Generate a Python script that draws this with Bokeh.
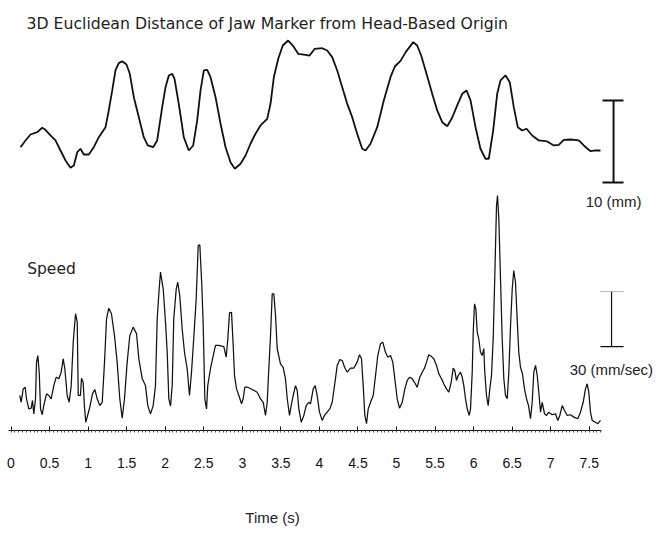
from bokeh.plotting import figure
from bokeh.layouts import column
from bokeh.models import Range1d, LinearAxis, FixedTicker, Label
from bokeh.embed import file_html
from bokeh.resources import INLINE

# ---- data ----
# 3D distance of jaw marker (mm, relative)
dist_t = [0.123, 0.188, 0.253, 0.340, 0.405, 0.447, 0.512, 0.577, 0.642, 0.707, 0.772, 0.815, 0.859,
          0.901, 0.944, 1.009, 1.074, 1.139, 1.226, 1.268, 1.313, 1.355, 1.398, 1.442, 1.498, 1.541,
          1.593, 1.658, 1.722, 1.774, 1.844, 1.896, 1.961, 2.004, 2.047, 2.091, 2.121, 2.176, 2.241,
          2.306, 2.363, 2.415, 2.458, 2.501, 2.545, 2.588, 2.653, 2.718, 2.783, 2.847, 2.903, 2.977,
          3.042, 3.106, 3.171, 3.236, 3.323, 3.366, 3.409, 3.466, 3.525, 3.595, 3.655, 3.725, 3.820,
          3.872, 3.940, 4.036, 4.101, 4.166, 4.231, 4.296, 4.361, 4.425, 4.490, 4.555, 4.598, 4.663,
          4.750, 4.835, 4.922, 4.978, 5.052, 5.117, 5.217, 5.268, 5.320, 5.389, 5.463, 5.528, 5.593,
          5.658, 5.722, 5.787, 5.852, 5.908, 5.960, 6.025, 6.089, 6.154, 6.197, 6.254, 6.306, 6.349,
          6.414, 6.469, 6.521, 6.573, 6.630, 6.686, 6.760, 6.846, 6.955, 7.040, 7.105, 7.170, 7.257,
          7.364, 7.429, 7.516, 7.581, 7.646]
dist_mm = [2.84, 3.66, 4.39, 4.67, 5.21, 4.96, 4.27, 3.66, 2.44, 1.22, 0.33, 0.61, 2.23,
           2.65, 1.95, 1.95, 2.84, 4.06, 5.28, 7.32, 9.76, 12.20, 13.09, 13.33, 12.93, 11.79,
           8.94, 6.50, 4.06, 3.05, 2.84, 3.66, 7.72, 10.16, 11.59, 11.79, 11.18, 8.13, 4.06,
           2.44, 3.05, 6.10, 9.76, 12.20, 12.28, 11.38, 8.94, 5.70, 2.84, 1.01, 0.21, 0.82,
           1.83, 3.26, 4.48, 5.49, 6.30, 8.13, 11.38, 13.62, 15.24, 15.85, 15.24, 14.23, 14.11,
           14.02, 14.84, 14.91, 14.63, 13.82, 12.20, 10.16, 8.13, 6.50, 4.48, 2.65, 2.44, 3.26,
           5.28, 8.54, 11.38, 12.68, 13.37, 14.40, 15.65, 15.24, 14.02, 11.79, 9.35, 7.32, 5.89,
           5.40, 6.43, 7.93, 9.35, 9.76, 8.54, 5.28, 2.65, 1.43, 1.43, 4.88, 9.35, 10.98,
           11.59, 10.77, 7.72, 5.28, 4.88, 5.09, 4.27, 3.66, 3.54, 3.05, 3.13, 3.74, 3.78,
           3.66, 3.05, 2.35, 2.44, 2.44]

# speed (mm/sec)
speed_t = [0.114, 0.132, 0.158, 0.184, 0.201, 0.231, 0.262, 0.279, 0.296, 0.318, 0.331, 0.348, 0.366,
           0.383, 0.405, 0.425, 0.460, 0.490, 0.521, 0.555, 0.586, 0.620, 0.651, 0.677, 0.698, 0.729,
           0.755, 0.781, 0.807, 0.837, 0.859, 0.872, 0.901, 0.914, 0.936, 0.953, 0.970, 0.988, 1.022,
           1.057, 1.087, 1.118, 1.152, 1.183, 1.213, 1.239, 1.268, 1.303, 1.342, 1.377, 1.411, 1.442,
           1.472, 1.507, 1.541, 1.585, 1.628, 1.658, 1.702, 1.744, 1.774, 1.809, 1.844, 1.874, 1.896,
           1.922, 1.939, 1.974, 2.004, 2.026, 2.047, 2.069, 2.091, 2.111, 2.143, 2.163, 2.189, 2.220,
           2.250, 2.285, 2.315, 2.341, 2.371, 2.402, 2.428, 2.449, 2.475, 2.493, 2.514, 2.536, 2.552,
           2.587, 2.623, 2.652, 2.695, 2.760, 2.791, 2.812, 2.834, 2.860, 2.882, 2.899, 2.925, 2.955,
           2.990, 3.012, 3.032, 3.071, 3.128, 3.193, 3.236, 3.271, 3.301, 3.323, 3.344, 3.366, 3.388,
           3.409, 3.431, 3.453, 3.495, 3.530, 3.560, 3.583, 3.612, 3.634, 3.660, 3.690, 3.712, 3.733,
           3.764, 3.798, 3.829, 3.863, 3.885, 3.920, 3.945, 3.971, 4.001, 4.036, 4.066, 4.101, 4.135,
           4.166, 4.196, 4.231, 4.265, 4.296, 4.326, 4.361, 4.403, 4.446, 4.490, 4.520, 4.546, 4.568,
           4.589, 4.611, 4.633, 4.663, 4.698, 4.728, 4.757, 4.792, 4.822, 4.857, 4.887, 4.922, 4.952,
           4.978, 5.009, 5.039, 5.074, 5.108, 5.139, 5.172, 5.204, 5.233, 5.268, 5.302, 5.333, 5.363,
           5.389, 5.419, 5.450, 5.484, 5.519, 5.549, 5.584, 5.613, 5.648, 5.678, 5.709, 5.735, 5.756,
           5.778, 5.800, 5.830, 5.852, 5.873, 5.895, 5.917, 5.943, 5.960, 5.982, 5.995, 6.012, 6.029,
           6.047, 6.067, 6.089, 6.111, 6.132, 6.145, 6.167, 6.189, 6.210, 6.232, 6.254, 6.275, 6.297,
           6.310, 6.327, 6.349, 6.371, 6.392, 6.414, 6.436, 6.457, 6.479, 6.501, 6.521, 6.543, 6.565,
           6.586, 6.608, 6.634, 6.660, 6.686, 6.712, 6.738, 6.760, 6.781, 6.803, 6.825, 6.846, 6.868,
           6.890, 6.920, 6.946, 6.975, 7.019, 7.062, 7.092, 7.118, 7.149, 7.179, 7.214, 7.257, 7.300,
           7.351, 7.386, 7.421, 7.451, 7.473, 7.494, 7.516, 7.538, 7.581, 7.611, 7.646]
speed_mms = [19.1, 15.4, 22.7, 23.6, 17.3, 11.8, 12.2, 16.4, 9.1, 17.3, 37.3, 40.9, 31.8,
             11.8, 8.6, 13.6, 20.0, 19.1, 17.3, 24.5, 29.1, 28.2, 31.8, 39.1, 33.7, 19.1,
             15.4, 24.5, 48.2, 63.7, 59.1, 19.1, 19.1, 28.5, 26.3, 12.7, 4.5, 7.3, 12.7,
             20.0, 22.4, 17.3, 13.6, 15.4, 37.3, 60.9, 66.7, 63.7, 51.8, 37.3, 17.3, 6.7,
             17.3, 37.3, 51.8, 56.4, 52.8, 39.1, 28.2, 24.5, 13.6, 9.1, 13.6, 24.5, 60.9,
             77.3, 86.4, 77.3, 59.1, 42.7, 17.3, 13.3, 24.5, 60.9, 77.3, 80.9, 73.6, 55.5,
             42.7, 33.7, 19.1, 31.8, 50.9, 71.8, 100.9, 101.3, 79.1, 57.3, 17.3, 11.8, 24.5,
             33.7, 40.9, 46.4, 46.4, 45.8, 40.0, 50.0, 64.2, 64.5, 46.4, 30.0, 22.7, 19.1,
             14.6, 17.3, 23.6, 23.6, 22.4, 20.9, 17.3, 15.4, 8.2, 15.4, 33.7, 51.8, 74.6,
             74.6, 62.7, 44.6, 36.4, 34.5, 28.2, 17.3, 8.2, 13.6, 19.1, 24.5, 21.8, 11.8,
             4.5, 8.2, 13.6, 15.4, 14.6, 22.7, 24.5, 19.1, 10.0, 5.5, 8.2, 10.0, 11.8,
             15.4, 24.5, 35.5, 38.7, 38.2, 34.5, 31.8, 34.0, 34.0, 37.3, 41.3, 39.1, 24.5,
             8.2, 3.7, 11.8, 15.4, 19.1, 30.0, 40.9, 47.3, 48.2, 42.7, 40.0, 40.9, 37.3,
             28.2, 17.3, 12.2, 15.4, 22.7, 27.3, 29.1, 28.2, 26.3, 23.6, 29.1, 31.8, 34.0,
             37.3, 41.3, 40.5, 39.1, 35.5, 30.9, 28.2, 25.5, 22.7, 20.9, 26.3, 34.0, 32.7,
             27.3, 30.0, 31.8, 29.1, 24.5, 17.3, 11.8, 8.2, 11.8, 31.8, 53.6, 69.1, 66.4,
             53.6, 50.0, 42.7, 40.9, 44.6, 31.8, 19.1, 13.6, 22.7, 30.0, 50.0, 84.6, 122.7,
             128.2, 115.5, 82.8, 50.0, 28.2, 19.1, 17.3, 31.8, 57.3, 77.3, 87.3, 80.9, 60.9,
             42.7, 34.5, 30.9, 22.7, 17.3, 13.6, 6.4, 15.4, 31.8, 35.5, 30.0, 20.9, 10.0,
             15.4, 9.1, 8.2, 10.0, 8.6, 9.1, 5.5, 8.2, 13.6, 10.9, 8.2, 8.6, 7.3,
             6.4, 10.0, 15.4, 22.7, 25.5, 20.9, 10.0, 5.5, 4.5, 3.7, 5.5]

tick_values = [0, 0.5, 1, 1.5, 2, 2.5, 3, 3.5, 4, 4.5, 5, 5.5, 6, 6.5, 7, 7.5]
tick_labels = ["0", "0.5", "1", "1.5", "2", "2.5", "3", "3.5", "4", "4.5",
               "5", "5.5", "6", "6.5", "7", "7.5"]

dist_scale_mm = 10      # scale bar for distance
speed_scale_mms = 30    # scale bar for speed

title_text = "3D Euclidean Distance of Jaw Marker from Head-Based Origin"
speed_text = "Speed"
dist_scale_text = "10 (mm)"
speed_scale_text = "30 (mm/sec)"
xlabel_text = "Time (s)"

# ---- main figure ----
SANS = "Liberation Sans"
WIDE = "DejaVu Sans"

p = figure(width=658, height=490, output_backend="svg", toolbar_location=None,
           x_range=Range1d(-0.1362, 8.398), y_range=Range1d(0, 234.6),
           x_axis_type=None, y_axis_type=None,
           min_border_left=0, min_border_right=0, min_border_top=0, min_border_bottom=60)
p.outline_line_color = None
p.background_fill_color = "white"
p.border_fill_color = "white"
p.extra_y_ranges = {"dist": Range1d(-31.71, 20.73)}

p.line(dist_t, dist_mm, y_range_name="dist", line_color="#111111", line_width=1.8)
p.line(speed_t, speed_mms, line_color="#111111", line_width=1.25)

# bottom time axis
minor = [round(i * 0.05, 2) for i in range(154)]
xaxis = LinearAxis(ticker=FixedTicker(ticks=tick_values, minor_ticks=minor))
xaxis.major_label_overrides = {v: s for v, s in zip(tick_values, tick_labels)}
xaxis.bounds = (-0.03, 7.66)
xaxis.axis_line_color = "#111111"
xaxis.axis_line_width = 1
xaxis.major_tick_in = 4
xaxis.major_tick_out = 0
xaxis.major_tick_line_color = "#111111"
xaxis.minor_tick_in = 0
xaxis.minor_tick_out = 2
xaxis.minor_tick_line_color = "#555555"
xaxis.major_label_standoff = 25
xaxis.major_label_text_font = SANS
xaxis.major_label_text_font_size = "14px"
xaxis.major_label_text_color = "#111111"
p.add_layout(xaxis, "below")

# scale bars
d_bot = -1.46
p.segment(x0=[7.815], y0=[d_bot], x1=[7.815], y1=[d_bot + dist_scale_mm],
          y_range_name="dist", line_color="#111111", line_width=2)
p.segment(x0=[7.672, 7.672], y0=[d_bot, d_bot + dist_scale_mm],
          x1=[7.944, 7.944], y1=[d_bot, d_bot + dist_scale_mm],
          y_range_name="dist", line_color="#111111", line_width=2)

s_bot = 45.8
p.segment(x0=[7.789], y0=[s_bot], x1=[7.789], y1=[s_bot + speed_scale_mms],
          line_color="#111111", line_width=1.2)
p.segment(x0=[7.646], y0=[s_bot], x1=[7.944], y1=[s_bot],
          line_color="#111111", line_width=1.2)
p.segment(x0=[7.646], y0=[s_bot + speed_scale_mms], x1=[7.944], y1=[s_bot + speed_scale_mms],
          line_color="#777777", line_width=1, line_dash="1 1")

# texts
p.add_layout(Label(x=0.201, y=222.2, text=title_text, text_font=WIDE, text_font_size="15.7px",
                   text_color="#222222", text_baseline="alphabetic", text_align="left"))
p.add_layout(Label(x=0.210, y=88.2, text=speed_text, text_font=WIDE, text_font_size="15.5px",
                   text_color="#222222", text_baseline="alphabetic", text_align="left"))
p.add_layout(Label(x=7.815, y=124.9, text=dist_scale_text, text_font=SANS, text_font_size="15px",
                   text_color="#222222", text_baseline="alphabetic", text_align="center"))
p.add_layout(Label(x=7.786, y=33.1, text=speed_scale_text, text_font=SANS, text_font_size="15px",
                   text_color="#222222", text_baseline="alphabetic", text_align="center"))

# ---- strip below for the x axis title ----
p2 = figure(width=658, height=46, output_backend="svg", toolbar_location=None,
            x_range=p.x_range, y_range=Range1d(0, 46),
            x_axis_type=None, y_axis_type=None,
            min_border_left=0, min_border_right=0, min_border_top=0, min_border_bottom=0)
p2.outline_line_color = None
p2.background_fill_color = "white"
p2.border_fill_color = "white"
p2.add_layout(Label(x=3.392, y=19, text=xlabel_text, text_font=SANS, text_font_size="15px",
                    text_color="#222222", text_baseline="middle", text_align="center"))

layout = column(p, p2, spacing=0)
open("out.html", "w").write(file_html(layout, INLINE))
